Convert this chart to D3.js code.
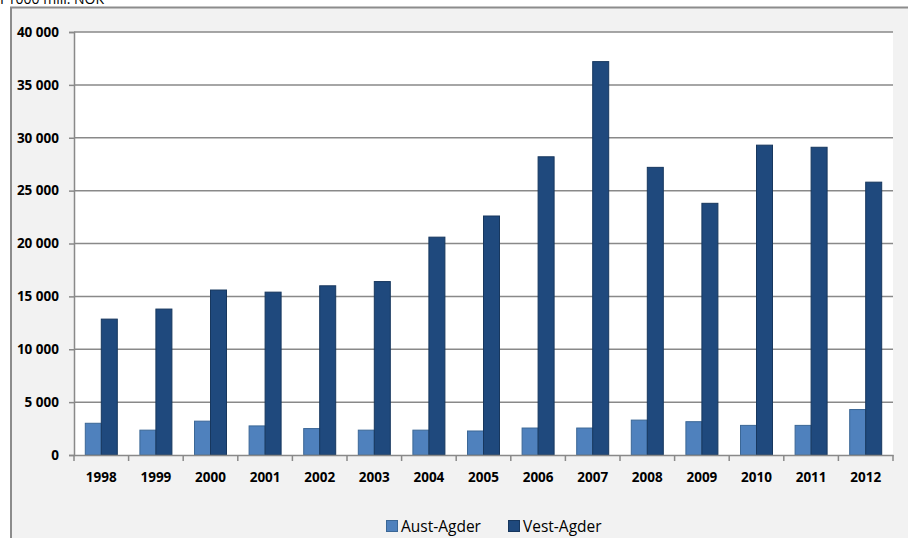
<!DOCTYPE html>
<html>
<head>
<meta charset="utf-8">
<script src="https://cdn.jsdelivr.net/npm/d3@7"></script>
<style>
  body { margin: 0; background: #ffffff; }
  svg { display: block; font-family: "Open Sans", "Liberation Sans", sans-serif; }
</style>
</head>
<body>
<svg id="chart"></svg>
<script>
// Data
const years = ["1998", "1999", "2000", "2001", "2002", "2003", "2004", "2005",
               "2006", "2007", "2008", "2009", "2010", "2011", "2012"];
const austAgder = [3000, 2350, 3200, 2750, 2500, 2350, 2350, 2270, 2550, 2550, 3300, 3150, 2800, 2800, 4300];
const vestAgder = [12850, 13800, 15600, 15400, 16000, 16400, 20600, 22600, 28200, 37200, 27200, 23800, 29300, 29100, 25800];
const seriesNames = ["Aust-Agder", "Vest-Agder"];
const yTicks = [0, 5000, 10000, 15000, 20000, 25000, 30000, 35000, 40000];

const colors = { fill: ["#4f81bd", "#1f497d"], stroke: ["#3b6796", "#17375e"] };

const width = 908, height = 538;
const margin = { left: 74, right: 15, top: 32, bottom: 83 };

const svg = d3.select("#chart")
    .attr("width", width)
    .attr("height", height);

// Chart frame (grey panel, cut off at right and bottom)
svg.append("rect")
    .attr("x", 11).attr("y", 7.5)
    .attr("width", width).attr("height", height)
    .attr("fill", "#f2f2f2")
    .attr("stroke", "#8c8c8c")
    .attr("stroke-width", 2);

// Caption above the frame, clipped by the top edge like in the original
svg.append("text")
    .attr("x", 0).attr("y", 4)
    .attr("font-size", 14)
    .attr("fill", "#000")
    .text("I 1000 mill. NOK");

const x0 = d3.scaleBand()
    .domain(years)
    .range([margin.left, width - margin.right]);

const barW = 16;

const y = d3.scaleLinear()
    .domain([0, 40000])
    .range([height - margin.bottom, margin.top]);

const fmt = d3.formatLocale({ decimal: ",", thousands: " ", grouping: [3], currency: ["", ""] }).format(",");

// Plot area
svg.append("rect")
    .attr("x", margin.left).attr("y", margin.top)
    .attr("width", width - margin.right - margin.left)
    .attr("height", y(0) - margin.top)
    .attr("fill", "#ffffff");

// Gridlines
svg.append("g")
    .selectAll("line")
    .data(yTicks.filter(d => d > 0))
    .join("line")
    .attr("x1", margin.left).attr("x2", width - margin.right)
    .attr("y1", d => y(d)).attr("y2", d => y(d))
    .attr("stroke", "#898989")
    .attr("stroke-width", 1.5);

// Bars
const data = years.map((yr, i) => ({ year: yr, values: [austAgder[i], vestAgder[i]] }));

svg.append("g")
    .selectAll("g")
    .data(data)
    .join("g")
    .selectAll("rect")
    .data(d => d.values.map((v, s) => ({ year: d.year, v, s })))
    .join("rect")
    .attr("x", d => x0(d.year) + x0.bandwidth() / 2 - barW + d.s * barW)
    .attr("y", d => y(d.v))
    .attr("width", barW)
    .attr("height", d => y(0) - y(d.v))
    .attr("fill", d => colors.fill[d.s])
    .attr("stroke", d => colors.stroke[d.s])
    .attr("stroke-width", 1);

// Y axis
const yAxis = svg.append("g")
    .attr("transform", `translate(${margin.left},0)`)
    .call(d3.axisLeft(y).tickValues(yTicks).tickFormat(fmt).tickSize(5).tickPadding(10));
yAxis.select(".domain").attr("stroke", "#898989").attr("stroke-width", 1.5);
yAxis.selectAll(".tick line").attr("stroke", "#898989").attr("stroke-width", 1.5);
yAxis.selectAll("text")
    .attr("font-size", 13.5).attr("font-weight", "bold").attr("fill", "#000")
    .attr("font-family", "\"Open Sans\", sans-serif");

// X axis, with ticks between categories
const xAxis = svg.append("g")
    .attr("transform", `translate(0,${y(0)})`)
    .call(d3.axisBottom(x0).tickSize(0).tickPadding(0));
xAxis.select(".domain").attr("stroke", "#898989").attr("stroke-width", 1.5);
xAxis.selectAll("text")
    .attr("y", 27).attr("dy", null)
    .attr("font-size", 13.5).attr("font-weight", "bold").attr("fill", "#000")
    .attr("font-family", "\"Open Sans\", sans-serif");
xAxis.append("g")
    .selectAll("line")
    .data(years.map(d => x0(d)).concat([x0.range()[1]]))
    .join("line")
    .attr("x1", d => d).attr("x2", d => d)
    .attr("y1", 0).attr("y2", 6)
    .attr("stroke", "#898989")
    .attr("stroke-width", 1.5);

// Legend
const legend = svg.append("g").attr("transform", "translate(386,520)");
const legendX = [0, 122];
seriesNames.forEach((name, i) => {
    const g = legend.append("g").attr("transform", `translate(${legendX[i]},0)`);
    g.append("rect")
        .attr("x", 0.5).attr("y", 0.5)
        .attr("width", 11).attr("height", 11)
        .attr("fill", colors.fill[i])
        .attr("stroke", colors.stroke[i]);
    g.append("text")
        .attr("x", 15).attr("y", 12)
        .attr("font-size", 15.5)
        .attr("fill", "#000")
        .text(name);
});
</script>
</body>
</html>
